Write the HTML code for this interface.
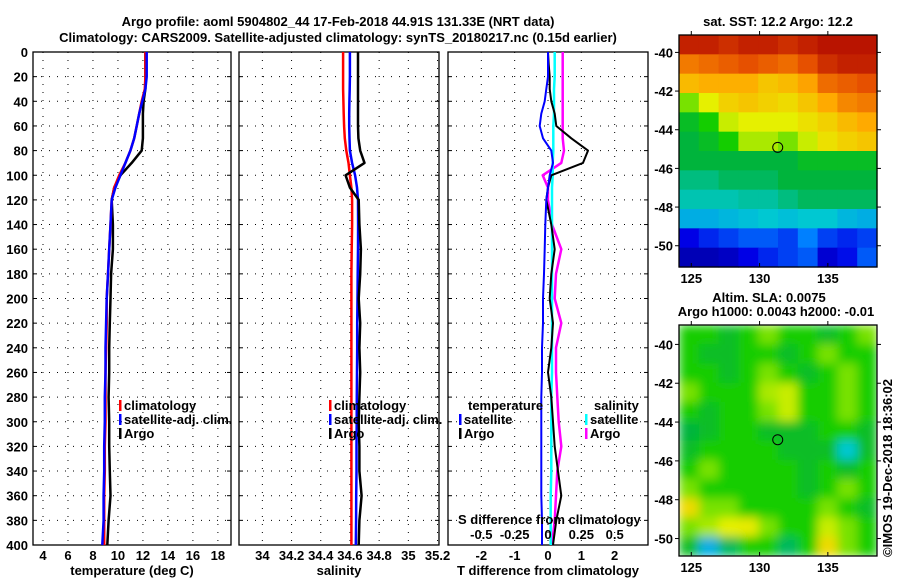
<!DOCTYPE html>
<html><head><meta charset="utf-8"><style>
html,body{margin:0;padding:0;background:#fff}
svg{display:block}
text{font-family:"Liberation Sans",sans-serif;font-weight:bold;font-size:13px;fill:#000}
</style></head><body>
<svg id="s" width="900" height="580" viewBox="0 0 900 580" xmlns="http://www.w3.org/2000/svg">
<defs>
<filter id="blur" x="0" y="0" width="100%" height="100%"><feGaussianBlur stdDeviation="5" edgeMode="duplicate"/></filter>
<clipPath id="c2"><rect x="679" y="325" width="198" height="231"/></clipPath>
</defs>
<text x="338" y="26" text-anchor="middle" font-size="14">Argo profile: aoml 5904802_44 17-Feb-2018 44.91S 131.33E (NRT data)</text>
<text x="338" y="42" text-anchor="middle" font-size="14">Climatology: CARS2009. Satellite-adjusted climatology: synTS_20180217.nc (0.15d earlier)</text>
<g id="g"></g>
<text x="778" y="26" text-anchor="middle">sat. SST: 12.2 Argo: 12.2</text>
<text x="769" y="302" text-anchor="middle">Altim. SLA: 0.0075</text>
<text x="776" y="316" text-anchor="middle">Argo h1000: 0.0043 h2000: -0.01</text>
<text transform="translate(892,468) rotate(-90)" text-anchor="middle" font-weight="normal">©IMOS 19-Dec-2018 18:36:02</text>
</svg>
<script>
// depth levels (dbar)
const depth = [0,10,20,30,40,50,60,70,80,90,100,110,120,140,160,180,200,220,240,260,280,300,320,340,360,380,400];
// temperature (deg C)
const tempClim = [12.2,12.2,12.2,12.15,11.9,11.7,11.5,11.3,11.0,10.6,10.1,9.7,9.5,9.4,9.3,9.2,9.1,9.1,9.05,9.0,9.0,9.0,8.95,8.95,8.9,8.9,8.9];
const tempSat  = [12.3,12.3,12.3,12.2,11.95,11.7,11.5,11.3,11.0,10.6,10.2,9.8,9.5,9.4,9.3,9.2,9.1,9.05,9.0,9.0,8.95,8.95,8.9,8.9,8.85,8.85,8.75];
const tempArgo = [12.2,12.2,12.2,12.2,12.05,12.0,12.0,12.0,11.9,11.1,10.2,9.7,9.5,9.6,9.6,9.45,9.4,9.35,9.3,9.3,9.25,9.3,9.3,9.35,9.4,9.25,9.15];
// salinity (psu)
const salClim = [34.553,34.553,34.553,34.553,34.555,34.557,34.56,34.565,34.575,34.59,34.60,34.61,34.615,34.615,34.612,34.61,34.61,34.61,34.61,34.61,34.61,34.61,34.61,34.61,34.61,34.61,34.61];
const salSat  = [34.60,34.60,34.60,34.598,34.596,34.595,34.595,34.597,34.60,34.615,34.635,34.648,34.655,34.656,34.655,34.653,34.652,34.65,34.65,34.648,34.647,34.646,34.645,34.645,34.643,34.642,34.64];
const salArgo = [34.655,34.655,34.655,34.655,34.655,34.655,34.655,34.658,34.67,34.70,34.57,34.60,34.66,34.665,34.675,34.67,34.66,34.67,34.665,34.67,34.665,34.66,34.665,34.665,34.68,34.665,34.66];
// differences from climatology (T in deg C, S in psu)
const dTSat  = [0.0,0.0,0.0,-0.05,-0.1,-0.2,-0.25,-0.15,0.1,0.15,0.05,0.0,-0.05,-0.08,-0.1,-0.12,-0.15,-0.15,-0.18,-0.18,-0.2,-0.2,-0.2,-0.2,-0.2,-0.18,-0.18];
const dTArgo = [0.0,0.02,0.05,0.05,0.1,0.2,0.25,0.7,1.2,1.05,0.1,0.0,-0.05,0.1,0.2,0.1,0.05,0.15,0.1,0.0,0.1,0.15,0.2,0.3,0.4,0.25,0.15];
const dSSat  = [0.05,0.05,0.05,0.045,0.045,0.045,0.04,0.04,0.04,0.035,0.035,0.03,0.03,0.03,0.03,0.03,0.03,0.03,0.03,0.03,0.025,0.025,0.025,0.025,0.02,0.02,0.02];
const dSArgo = [0.11,0.11,0.11,0.11,0.11,0.11,0.11,0.11,0.12,0.1,-0.04,0.0,0.0,0.03,0.1,0.06,0.05,0.1,0.06,0.06,0.07,0.08,0.1,0.07,0.06,0.05,0.03];
// axis tick labels
const depthTicks = [0,20,40,60,80,100,120,140,160,180,200,220,240,260,280,300,320,340,360,380,400];
const tempTicks = [4,6,8,10,12,14,16,18];
const salTicks = [34,34.2,34.4,34.6,34.8,35,35.2];
const salTickLabels = ["34","34.2","34.4","34.6","34.8","35","35.2"];
const dTTicks = [-2,-1,0,1,2];
const dSTicks = [-0.5,-0.25,0,0.25,0.5];
const dSTickLabels = ["-0.5","-0.25","0","0.25","0.5"];
// SST map grid (normalised colour values, rows north->south)
const sstGrid = [
[0.95,0.95,0.93,0.95,0.95,0.93,0.95,0.97,0.97,0.97],
[0.82,0.84,0.86,0.88,0.86,0.84,0.88,0.93,0.95,0.95],
[0.72,0.74,0.74,0.74,0.7,0.72,0.76,0.84,0.86,0.88],
[0.55,0.62,0.68,0.7,0.68,0.66,0.7,0.75,0.8,0.82],
[0.45,0.5,0.6,0.62,0.62,0.62,0.65,0.68,0.72,0.75],
[0.42,0.45,0.5,0.58,0.58,0.55,0.6,0.65,0.68,0.7],
[0.42,0.42,0.42,0.42,0.42,0.42,0.45,0.45,0.45,0.45],
[0.38,0.38,0.4,0.4,0.4,0.42,0.42,0.42,0.42,0.42],
[0.35,0.35,0.35,0.36,0.36,0.38,0.4,0.4,0.4,0.4],
[0.3,0.3,0.31,0.32,0.33,0.32,0.33,0.33,0.31,0.3],
[0.15,0.18,0.2,0.22,0.22,0.2,0.25,0.2,0.18,0.2],
[0.08,0.08,0.1,0.15,0.18,0.2,0.22,0.12,0.16,0.22]];
// SLA map grid
const slaGrid = [
[0.5,0.5,0.45,0.5,0.55,0.5,0.5,0.45,0.5,0.55],
[0.5,0.45,0.45,0.5,0.5,0.45,0.5,0.55,0.5,0.5],
[0.5,0.5,0.45,0.5,0.55,0.5,0.45,0.5,0.55,0.5],
[0.55,0.5,0.5,0.5,0.58,0.6,0.5,0.5,0.55,0.5],
[0.5,0.45,0.5,0.5,0.55,0.6,0.5,0.5,0.55,0.5],
[0.42,0.45,0.5,0.5,0.45,0.45,0.45,0.5,0.5,0.45],
[0.45,0.5,0.5,0.5,0.5,0.45,0.45,0.45,0.33,0.45],
[0.5,0.55,0.5,0.5,0.5,0.5,0.45,0.5,0.45,0.5],
[0.55,0.5,0.5,0.5,0.5,0.5,0.45,0.5,0.55,0.5],
[0.66,0.55,0.55,0.5,0.5,0.5,0.5,0.55,0.5,0.45],
[0.55,0.58,0.62,0.63,0.55,0.5,0.5,0.6,0.55,0.5],
[0.45,0.3,0.4,0.5,0.5,0.4,0.5,0.66,0.55,0.5]];
const lonTicks = [125,130,135];
const latTicks = [-40,-42,-44,-46,-48,-50];
const argoPos = [131.33,-44.91];

const NS='http://www.w3.org/2000/svg';
const G=document.getElementById('g');
function el(tag,attrs,parent){const e=document.createElementNS(NS,tag);for(const k in attrs)e.setAttribute(k,attrs[k]);(parent||G).appendChild(e);return e;}
const Y0=52,Y1=545;
const yD=d=>Y0+d*(Y1-Y0)/400;
function sx(p,v){return p.x0+(v-p.min)/(p.max-p.min)*(p.x1-p.x0);}
const P1={x0:33,x1:231,min:3.2,max:19.05};
const P2={x0:239,x1:439,min:33.84,max:35.21};
const P3={x0:448,x1:648,min:-3,max:3};
const P3S={x0:448,x1:648,min:-0.75,max:0.75};

function panel(p,name,ticks,labels,title){
  const g=el('g',{});
  
  
  depthTicks.forEach(d=>{
    if(d>0&&d<400){const l=el('line',{x1:p.x0,x2:p.x1,y1:yD(d),y2:yD(d),stroke:'#000','stroke-width':1,'stroke-dasharray':'1 7'},g);
    }
    el('line',{x1:p.x0,x2:p.x0+4,y1:yD(d),y2:yD(d),stroke:'#000'},g);
    el('line',{x1:p.x1-4,x2:p.x1,y1:yD(d),y2:yD(d),stroke:'#000'},g);
  });
  ticks.forEach((t,i)=>{
    const x=sx(p,t);
    const l=el('line',{x1:x,x2:x,y1:Y0,y2:Y1,stroke:'#000','stroke-width':1,'stroke-dasharray':'1 7'},g);
    
    const tx=el('text',{x:x,y:560,'text-anchor':'middle'},g);
    
    tx.textContent=labels?labels[i]:String(t);
  });
  const r=el('rect',{x:p.x0,y:Y0,width:p.x1-p.x0,height:Y1-Y0,fill:'none',stroke:'#000','stroke-width':1.3},g);
  
  const at=el('text',{x:(p.x0+p.x1)/2,y:575,'text-anchor':'middle'},g);
  
  at.textContent=title;
  return g;
}
function line(p,vals,color,w,name,g){
  const pts=vals.map((v,i)=>sx(p,v).toFixed(1)+','+yD(depth[i]).toFixed(1)).join(' ');
  const l=el('polyline',{points:pts,fill:'none',stroke:color,'stroke-width':w,'stroke-linejoin':'round'},g);
  
}
function legend(x,y,color,label,g){
  el('rect',{x:x,y:y-10,width:2.5,height:11,fill:color},g);
  const t=el('text',{x:x+5,y:y},g);
  
  t.textContent=label;
}
depthTicks.forEach(d=>{const t=el('text',{x:28,y:yD(d)+5,'text-anchor':'end'});
  t.textContent=d;});

const g1=panel(P1,'temperature-panel',tempTicks,null,'temperature (deg C)');
line(P1,tempArgo,'#000',2.5,'argo-temperature-line',g1);
line(P1,tempClim,'#f00',2.5,'climatology-temperature-line',g1);
line(P1,tempSat,'#00f',2.5,'satellite-temperature-line',g1);
legend(119,410,'#f00','climatology',g1);legend(119,424,'#00f','satellite-adj. clim.',g1);legend(119,438,'#000','Argo',g1);

const g2=panel(P2,'salinity-panel',salTicks,salTickLabels,'salinity');
line(P2,salClim,'#f00',2.5,'climatology-salinity-line',g2);
line(P2,salSat,'#00f',2.5,'satellite-salinity-line',g2);
line(P2,salArgo,'#000',2.5,'argo-salinity-line',g2);
legend(329,410,'#f00','climatology',g2);legend(329,424,'#00f','satellite-adj. clim.',g2);legend(329,438,'#000','Argo',g2);

const g3=panel(P3,'difference-panel',dTTicks,null,'T difference from climatology');
line(P3S,dSArgo,'#f0f',2.5,'argo-salinity-diff-line',g3);
line(P3S,dSSat,'#0ff',2.5,'satellite-salinity-diff-line',g3);
line(P3,dTArgo,'#000',2,'argo-temperature-diff-line',g3);
line(P3,dTSat,'#00f',2,'satellite-temperature-diff-line',g3);
[['temperature',468,410],['salinity',594,410]].forEach(a=>{const t=el('text',{x:a[1],y:a[2]},g3);
  t.textContent=a[0];});
legend(459,424,'#00f','satellite',g3);legend(459,438,'#000','Argo',g3);
legend(585,424,'#0ff','satellite',g3);legend(585,438,'#f0f','Argo',g3);
{const t=el('text',{x:458,y:524},g3);t.textContent='S difference from climatology';}
dSTicks.forEach((v,i)=>{const t=el('text',{x:sx(P3S,v),y:539,'text-anchor':'middle'},g3);
  t.textContent=dSTickLabels[i];});

const stops=[[0,[0,0,128]],[0.15,[0,0,230]],[0.25,[0,128,255]],[0.33,[0,200,210]],[0.42,[0,180,60]],[0.5,[20,205,0]],[0.56,[140,230,0]],[0.62,[230,240,0]],[0.75,[255,170,0]],[0.88,[230,80,0]],[1,[170,0,0]]];
function cmap(v){for(let i=1;i<stops.length;i++){if(v<=stops[i][0]){const a=stops[i-1],b=stops[i],f=(v-a[0])/(b[0]-a[0]);
  return 'rgb('+a[1].map((c,k)=>Math.round(c+(b[1][k]-c)*f)).join(',')+')';}}return 'rgb(170,0,0)';}
function map(name,grid,box,lon0,lon1,lat0,lat1,smooth){
  const g=el('g',{});
  const inner=el('g',smooth?{filter:'url(#blur)','clip-path':'url(#c2)'}:{},g);
  const rows=grid.length,cols=grid[0].length,cw=box.w/cols,ch=box.h/rows;
  grid.forEach((row,r)=>row.forEach((v,c)=>{
    const rc=el('rect',{x:box.x+c*cw,y:box.y+r*ch,width:cw+0.6,height:ch+0.6,fill:cmap(v)},inner);
    
  }));
  el('rect',{x:box.x,y:box.y,width:box.w,height:box.h,fill:'none',stroke:'#000','stroke-width':1.3},g);
  const mx=lo=>box.x+(lo-lon0)/(lon1-lon0)*box.w, my=la=>box.y+(lat0-la)/(lat0-lat1)*box.h;
  lonTicks.forEach(lo=>{const x=mx(lo);
    el('line',{x1:x,x2:x,y1:box.y+box.h,y2:box.y+box.h-4,stroke:'#000'},g);
    el('line',{x1:x,x2:x,y1:box.y,y2:box.y-4,stroke:'#000'},g);
    const t=el('text',{x:x,y:box.y+box.h+16,'text-anchor':'middle'},g);
    t.textContent=lo;});
  latTicks.forEach(la=>{const y=my(la);
    el('line',{x1:box.x,x2:box.x-4,y1:y,y2:y,stroke:'#000'},g);
    el('line',{x1:box.x+box.w,x2:box.x+box.w+4,y1:y,y2:y,stroke:'#000'},g);
    const t=el('text',{x:box.x-6,y:y+5,'text-anchor':'end'},g);
    t.textContent=la;});
  const c=el('circle',{cx:mx(argoPos[0]),cy:my(argoPos[1]),r:5,fill:'none',stroke:'#000','stroke-width':1},g);
  
}
map('sst-map',sstGrid,{x:679,y:35,w:198,h:232},124.1,138.6,-39.1,-51.1,false);
map('sla-map',slaGrid,{x:679,y:325,w:198,h:231},124.1,138.6,-39.0,-50.9,true);
</script>
</body></html>
